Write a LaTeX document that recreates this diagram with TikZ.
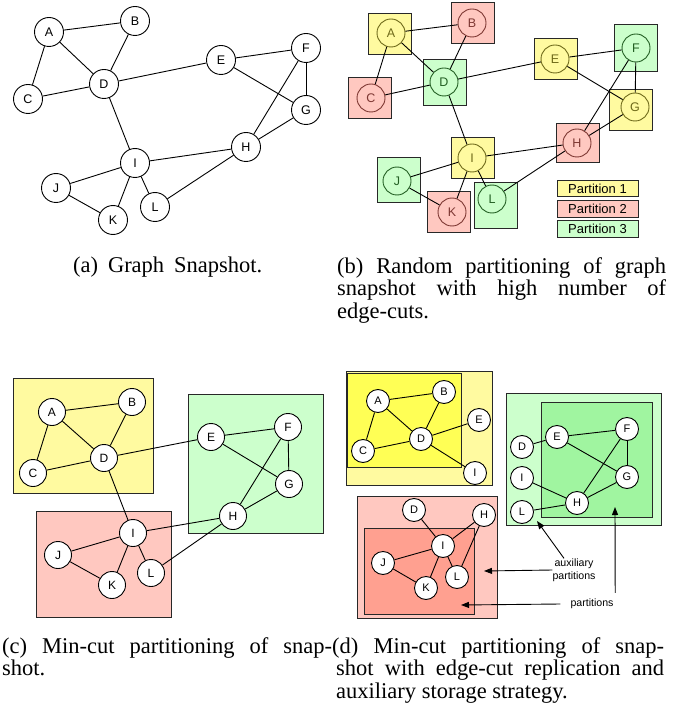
\documentclass[tikz,border=0pt]{standalone}
\usepackage{fontspec}
\setmainfont{Liberation Serif}
\setsansfont{Liberation Sans}
\usetikzlibrary{arrows.meta}
\definecolor{pY}{RGB}{255,250,160}
\definecolor{pR}{RGB}{255,200,192}
\definecolor{pG}{RGB}{204,255,204}
\definecolor{pYi}{RGB}{255,255,85}
\definecolor{pRi}{RGB}{255,160,144}
\definecolor{pGi}{RGB}{160,245,160}
\definecolor{pYd}{RGB}{110,105,25}
\definecolor{pRd}{RGB}{125,55,50}
\definecolor{pGd}{RGB}{35,95,35}
\definecolor{bord}{RGB}{40,40,40}
\tikzset{
  vtx/.style={circle, draw=black, fill=white, line width=0.9pt, minimum size=29pt, inner sep=0pt, font=\fontsize{12.5}{12.5}\sffamily},
  vtxc/.style={vtx, minimum size=27pt, font=\fontsize{12}{12}\sffamily},
  vtxd/.style={vtx, minimum size=23pt, font=\fontsize{11}{11}\sffamily},
  bvY/.style={vtx, minimum size=28pt, fill=pY, draw=pYd, text=pYd},
  bvR/.style={vtx, minimum size=28pt, fill=pR, draw=pRd, text=pRd},
  bvG/.style={vtx, minimum size=28pt, fill=pG, draw=pGd, text=pGd},
  bsq/.style={draw=bord, line width=0.9pt, minimum width=43pt, minimum height=41pt, inner sep=0pt},
  edge/.style={line width=0.9pt},
  part/.style={draw=bord, line width=0.9pt},
  leg/.style={draw=bord, line width=0.9pt, minimum width=81pt, minimum height=16.5pt, inner sep=0pt, font=\fontsize{13}{13}\sffamily},
  ann/.style={inner sep=0pt, align=center, font=\fontsize{10.6}{13}\sffamily},
  arr/.style={line width=0.9pt, -{Triangle[length=8pt,width=6pt]}},
  captxt/.style={inner sep=0pt, anchor=base west, font=\fontsize{22.5}{22}\selectfont},
}
\begin{document}
\begin{tikzpicture}[x=1pt,y=-1pt]
\useasboundingbox (0,0) rectangle (684,708);
% ---------- (a) ----------
\node[vtx] (aA) at (49,32) {A};
\node[vtx] (aB) at (135,21) {B};
\node[vtx] (aC) at (28,99) {C};
\node[vtx] (aD) at (104,84) {D};
\node[vtx] (aE) at (221,60) {E};
\node[vtx] (aF) at (306,48) {F};
\node[vtx] (aG) at (306,110) {G};
\node[vtx] (aH) at (246,147) {H};
\node[vtx] (aI) at (135,163) {I};
\node[vtx] (aJ) at (56,188) {J};
\node[vtx] (aK) at (113,220) {K};
\node[vtx] (aL) at (155,207) {L};
% ---------- (b) ----------
\node[bsq, fill=pY] (sA) at (390,34) {};
\node[bsq, fill=pR] (sB) at (472.5,23) {};
\node[bsq, fill=pR] (sC) at (370,98) {};
\node[bsq, fill=pG, minimum height=46pt] (sD) at (445,82) {};
\node[bsq, fill=pY] (sE) at (555.5,59) {};
\node[bsq, fill=pG, minimum height=47pt] (sF) at (635.5,47.5) {};
\node[bsq, fill=pY] (sG) at (630.5,110) {};
\node[bsq, fill=pR, minimum height=39pt] (sH) at (578,142.5) {};
\node[bsq, fill=pY] (sI) at (473,158) {};
\node[bsq, fill=pG, minimum height=45pt] (sJ) at (398.5,179.5) {};
\node[bsq, fill=pR] (sK) at (449,212) {};
\node[bsq, fill=pG, minimum height=46pt] (sL) at (495.5,205) {};
\node[bvY] (bA) at (391,33) {A};
\node[bvR] (bB) at (472,23) {B};
\node[bvR] (bC) at (371,98) {C};
\node[bvG] (bD) at (444,82) {D};
\node[bvY] (bE) at (555,59) {E};
\node[bvG] (bF) at (636,48) {F};
\node[bvY] (bG) at (635,107) {G};
\node[bvR] (bH) at (577,143) {H};
\node[bvY] (bI) at (472,158) {I};
\node[bvG] (bJ) at (397,181) {J};
\node[bvR] (bK) at (452,212) {K};
\node[bvG] (bL) at (492,199) {L};
\node[leg, fill=pY] (lg1) at (597.5,188.5) {Partition 1};
\node[leg, fill=pR] (lg2) at (597.5,209) {Partition 2};
\node[leg, fill=pG] (lg3) at (597.5,229) {Partition 3};
% ---------- (c) ----------
\draw[part, fill=pY] (13,378) rectangle (153,493);
\draw[part, fill=pG] (188,394) rectangle (323,533);
\draw[part, fill=pR] (36,511) rectangle (171,617);
\node[vtxc] (cA) at (52,412) {A};
\node[vtxc] (cB) at (132,402) {B};
\node[vtxc] (cC) at (33,473) {C};
\node[vtxc] (cD) at (104,458) {D};
\node[vtxc] (cE) at (211,437) {E};
\node[vtxc] (cF) at (288,427) {F};
\node[vtxc] (cG) at (289,484) {G};
\node[vtxc] (cH) at (233,516) {H};
\node[vtxc] (cI) at (133,533) {I};
\node[vtxc] (cJ) at (58,555) {J};
\node[vtxc] (cK) at (112,585) {K};
\node[vtxc] (cL) at (151,573) {L};
\foreach \p in {a,b,c}{
  \foreach \u/\v in {A/B,A/C,A/D,B/D,C/D,D/E,D/I,E/F,E/G,F/G,F/H,G/H,H/I,H/L,I/J,I/K,I/L,J/K}
    \draw[edge] (\p\u) -- (\p\v);
}
% ---------- (d) ----------
\draw[part, fill=pY] (346,371) rectangle (492,485);
\draw[part, fill=pYi] (347,373) rectangle (461,467);
\draw[part, fill=pG] (506,393) rectangle (661,525);
\draw[part, fill=pGi] (541,402) rectangle (652,517);
\draw[part, fill=pR] (357,496) rectangle (497,618);
\draw[part, fill=pRi] (364,528) rectangle (474,614);
% yellow
\node[vtxd] (yA) at (378,401) {A};
\node[vtxd] (yB) at (444,392) {B};
\node[vtxd] (yC) at (363,451) {C};
\node[vtxd] (yD) at (421,439) {D};
\node[vtxd] (yE) at (479,420) {E};
\node[vtxd] (yI) at (475,473) {I};
\foreach \u/\v in {A/B,A/C,A/D,B/D,C/D,D/E,D/I}
  \draw[edge] (y\u) -- (y\v);
% green
\node[vtxd] (gD) at (522,447) {D};
\node[vtxd] (gE) at (557,437) {E};
\node[vtxd] (gF) at (627,429) {F};
\node[vtxd] (gG) at (627,477) {G};
\node[vtxd] (gH) at (577,503) {H};
\node[vtxd] (gI) at (522,478) {I};
\node[vtxd] (gL) at (522,512) {L};
\foreach \u/\v in {D/E,E/F,E/G,F/G,F/H,G/H,I/H,L/H}
  \draw[edge] (g\u) -- (g\v);
% red
\node[vtxd] (rD) at (414,510) {D};
\node[vtxd] (rH) at (484,515) {H};
\node[vtxd] (rI) at (443,546) {I};
\node[vtxd] (rJ) at (383,563) {J};
\node[vtxd] (rK) at (426,588) {K};
\node[vtxd] (rL) at (457,577) {L};
\foreach \u/\v in {D/I,I/H,H/L,I/J,I/K,I/L,J/K}
  \draw[edge] (r\u) -- (r\v);
% annotations
\node[ann] (aux) at (574,570) {auxiliary\\partitions};
\node[ann] (prt) at (592,604) {partitions};
\coordinate (t1) at (537,521);
\coordinate (t2) at (484,571);
\coordinate (t3) at (615,507);
\coordinate (t4) at (461,605);
\draw[arr] ([xshift=-10pt]aux.north) -- (t1);
\draw[arr] (aux.west) -- (t2);
\draw[arr] ([xshift=1.5pt,yshift=6pt]prt.north east) -- (t3);
\draw[arr] ([xshift=-10pt]prt.west) -- (t4);
% ---------- captions ----------
\node[captxt] (capa) at (73,272) {\makebox[189pt][s]{(a) Graph Snapshot.}};
\node[captxt] (capb1) at (337,273) {\makebox[329pt][s]{(b) Random partitioning of graph}};
\node[captxt] (capb2) at (337,295.5) {\makebox[329pt][s]{snapshot with high number of}};
\node[captxt] (capb3) at (337,318) {edge-cuts.};
\node[captxt] (capc1) at (2,653) {\makebox[330pt][s]{(c) Min-cut partitioning of snap-}};
\node[captxt] (capc2) at (2,675.5) {shot.};
\node[captxt] (capd1) at (332,653) {\makebox[332pt][s]{(d) Min-cut partitioning of snap-}};
\node[captxt] (capd2) at (336,675.5) {\makebox[328pt][s]{shot with edge-cut replication and}};
\node[captxt] (capd3) at (336,698) {auxiliary storage strategy.};
\end{tikzpicture}
\end{document}
